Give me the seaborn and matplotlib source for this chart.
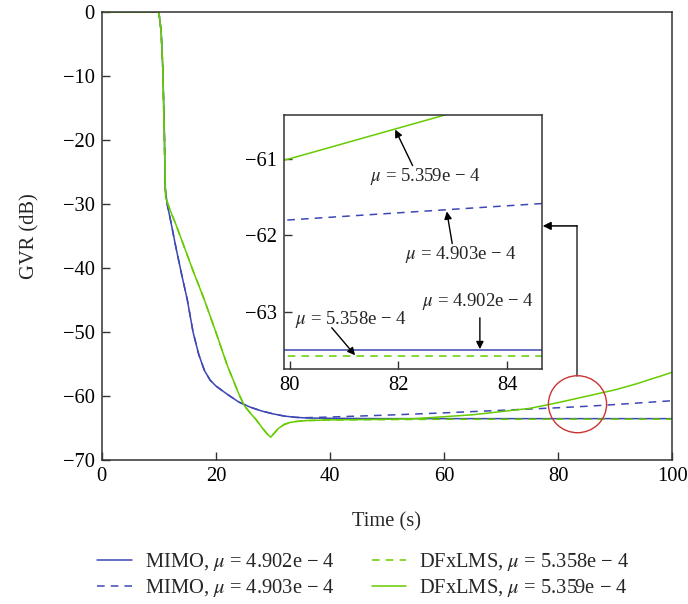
import numpy as np
import pandas as pd
import matplotlib
matplotlib.use("Agg")
import matplotlib.pyplot as plt
from matplotlib.patches import Ellipse
import seaborn as sns

# MIMO, mu = 4.902e-4 (solid blue)
t_mimo_a = [0, 10, 10.4, 10.7, 11.0, 11.1, 11.5, 12, 13, 14, 15, 16, 17, 18, 19, 20,
            22, 24, 26, 28, 30, 32, 34, 36, 40, 50, 60, 70, 80, 90, 100]
gvr_mimo_a = [0, 0, -3, -9, -20, -27.5, -30.2, -32.3, -36.8, -41, -45, -50, -53.5, -56,
              -57.5, -58.4, -59.7, -60.9, -61.7, -62.3, -62.75, -63.1, -63.3, -63.4,
              -63.45, -63.5, -63.5, -63.5, -63.5, -63.5, -63.5]

# MIMO, mu = 4.903e-4 (dashed blue)
t_mimo_b = [0, 10, 10.4, 10.7, 11.0, 11.1, 11.5, 12, 13, 14, 15, 16, 17, 18, 19, 20,
            22, 24, 26, 28, 30, 32, 34, 36, 40, 50, 60, 70, 80, 85, 90, 95, 100]
gvr_mimo_b = [0, 0, -3, -9, -20, -27.5, -30.2, -32.3, -36.8, -41, -45, -50, -53.5, -56,
              -57.5, -58.4, -59.7, -60.9, -61.7, -62.3, -62.75, -63.1, -63.3, -63.35,
              -63.25, -62.95, -62.6, -62.2, -61.8, -61.57, -61.3, -61.0, -60.7]

# DFxLMS, mu = 5.358e-4 (dashed green)
t_dfx_a = [0, 10, 10.4, 10.7, 11.0, 11.2, 12, 13, 14, 15, 16, 17, 18, 20, 22, 24, 25,
           26, 27, 28, 29, 29.6, 30, 31, 32, 33, 34, 36, 40, 50, 60, 70, 80, 90, 100]
gvr_dfx_a = [0, 0, -3, -9, -22, -29, -31, -33.2, -35.6, -38, -40.4, -42.7, -45, -50,
             -55.2, -59.6, -61.5, -62.6, -63.6, -64.8, -65.9, -66.4, -66.0, -65.0,
             -64.4, -64.1, -63.95, -63.8, -63.7, -63.65, -63.6, -63.6, -63.58, -63.58,
             -63.58]

# DFxLMS, mu = 5.359e-4 (solid green)
t_dfx_b = [0, 10, 10.4, 10.7, 11.0, 11.2, 12, 13, 14, 15, 16, 17, 18, 20, 22, 24, 25,
           26, 27, 28, 29, 29.6, 30, 31, 32, 33, 34, 36, 40, 45, 50, 55, 60, 65, 70, 75,
           80, 82, 84, 86, 88, 90, 92, 94, 96, 98, 100]
gvr_dfx_b = [0, 0, -3, -9, -22, -29, -31, -33.2, -35.6, -38, -40.4, -42.7, -45, -50,
             -55.2, -59.6, -61.5, -62.6, -63.6, -64.8, -65.9, -66.4, -66.0, -65.0,
             -64.4, -64.1, -63.95, -63.8, -63.7, -63.65, -63.6, -63.5, -63.2, -62.9,
             -62.4, -61.9, -61.0, -60.6, -60.2, -59.8, -59.4, -59.0, -58.5, -58.0,
             -57.4, -56.85, -56.25]

labels = [r"MIMO, $\mu$ = 4.902e − 4", r"MIMO, $\mu$ = 4.903e − 4",
          r"DFxLMS, $\mu$ = 5.358e − 4", r"DFxLMS, $\mu$ = 5.359e − 4"]
inset_notes = [r"$\mu$ = 5.359e − 4", r"$\mu$ = 4.903e − 4",
               r"$\mu$ = 4.902e − 4", r"$\mu$ = 5.358e − 4"]

blue = "#3d48b4"
green = "#66cc00"
dark = "#333333"
fs = 14.8

sns.set_style("ticks")
plt.rcParams["font.family"] = ["Liberation Serif", "DejaVu Serif"]
plt.rcParams["mathtext.fontset"] = "stix"
plt.rcParams["axes.edgecolor"] = dark
plt.rcParams["xtick.color"] = dark
plt.rcParams["ytick.color"] = dark
plt.rcParams["xtick.labelcolor"] = "black"
plt.rcParams["ytick.labelcolor"] = "black"

series = [
    (t_mimo_a, gvr_mimo_a, blue, "-"),
    (t_mimo_b, gvr_mimo_b, blue, "--"),
    (t_dfx_a, gvr_dfx_a, green, "--"),
    (t_dfx_b, gvr_dfx_b, green, "-"),
]


def draw(ax, with_label):
    for (t, v, c, ls), lab in zip(series, labels):
        sns.lineplot(x=t, y=v, ax=ax, color=c, lw=1.1,
                     label=lab if with_label else None, legend=False)
        if ls == "--":
            ax.lines[-1].set_dashes((5, 4))


fig = plt.figure(figsize=(6.88, 6.04), dpi=100)
ax = fig.add_axes([0.148, 0.238, 0.829, 0.742])
draw(ax, True)
ax.set_xlim(0, 100)
ax.set_ylim(-70, 0)
ax.set_xticks([0, 20, 40, 60, 80, 100])
ax.set_yticks([0, -10, -20, -30, -40, -50, -60, -70])
ax.tick_params(direction="in", length=6, width=1, labelsize=fs, pad=5)
ax.set_xlabel("Time (s)", fontsize=fs, labelpad=19)
ax.set_ylabel("GVR (dB)", fontsize=fs, labelpad=17)
for s in ax.spines.values():
    s.set_linewidth(1.1)

# zoom marker and connector
ax.add_patch(Ellipse((83.4, -61.25), 10.2, 8.9, fill=False, ec="#cc3333", lw=1.0, zorder=5))
ax.plot([83.3, 83.3], [-56.8, -33.4], color=dark, lw=1.1)
ax.annotate("", xy=(77.3, -33.4), xytext=(83.35, -33.4),
            arrowprops=dict(arrowstyle="-|>", color="black", lw=1.1,
                            mutation_scale=12, shrinkA=0, shrinkB=0))

handles, labs = ax.get_legend_handles_labels()
fig.legend(handles, labs, loc="upper center", bbox_to_anchor=(0.528, 0.112),
           ncol=2, frameon=False, fontsize=fs, handlelength=1.7,
           handletextpad=0.63, columnspacing=1.8, labelspacing=0.2,
           borderpad=0.2)

# inset
axi = fig.add_axes([0.4128, 0.389, 0.375, 0.4205])
draw(axi, False)
axi.set_xlim(79.89, 84.645)
axi.set_ylim(-63.75, -60.43)
axi.set_xticks([80, 82, 84])
axi.set_yticks([-61, -62, -63])
axi.tick_params(direction="in", length=6, width=1, labelsize=fs, pad=5)
for s in axi.spines.values():
    s.set_linewidth(1.1)

arrow = dict(arrowstyle="-|>", color="black", lw=1.0, mutation_scale=11,
             shrinkA=0, shrinkB=0)
note_xy = [(81.94, -60.62), (82.89, -61.69), (83.5, -63.49), (81.2, -63.57)]
note_from = [(82.26, -61.09), (82.99, -62.11), (83.5, -63.08), (80.77, -63.21)]
note_txt = [(82.5, -61.23), (83.16, -62.25), (83.46, -62.87), (81.13, -63.1)]
for s, xy, fr, tx in zip(inset_notes, note_xy, note_from, note_txt):
    axi.annotate("", xy=xy, xytext=fr, arrowprops=arrow)
    axi.text(tx[0], tx[1], s, fontsize=13.5, ha="center", va="center")

fig.savefig("out.png", dpi=100)
